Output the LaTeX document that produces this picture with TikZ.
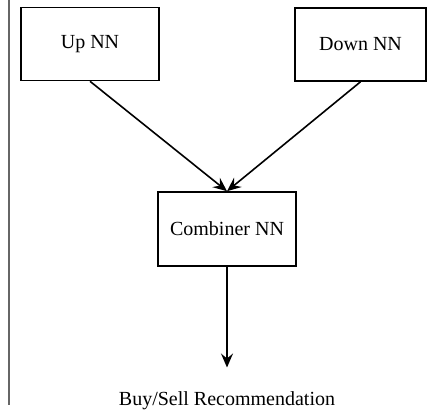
\documentclass[tikz,border=0pt]{standalone}
\usepackage{fontspec}
\setmainfont{Liberation Serif}
\usetikzlibrary{arrows.meta,positioning}
\tikzset{
    net box/.style={rectangle, draw, line width=0.8pt, align=center, font=\fontsize{10}{12}\selectfont},
    up net/.style={net box, minimum width=69pt, minimum height=36.5pt},
    comb net/.style={net box, minimum width=69pt, minimum height=37pt},
    out label/.style={font=\fontsize{10}{12}\selectfont, inner sep=1pt}
}

\begin{document}
\begin{tikzpicture}[x=0.5pt,y=-0.5pt,
	feed/.style={-{Stealth[length=7pt,width=6pt,inset=2.5pt]},draw,line width=0.8pt}]
		\useasboundingbox (0,0) rectangle (427,411);
		\draw[gray!80!black, line width=0.6pt] (9,0) -- (9,405);
		\node[up net] (up) at (90,44) {Up NN};
		\node[net box, minimum width=65.5pt, minimum height=36.5pt] (down) at (360.5,44.5) {Down NN};
		\node[comb net] (comb) at (227,229) {Combiner NN};
		\node[out label] (rec) at (227,401) {Buy/Sell Recommendation};
		\draw[feed] (up.south) -- (comb.north);
		\draw[feed] (down.south) -- (comb.north);
		\draw[feed, shorten >=11pt] (comb.south) -- (rec.north);
\end{tikzpicture}
\end{document}
